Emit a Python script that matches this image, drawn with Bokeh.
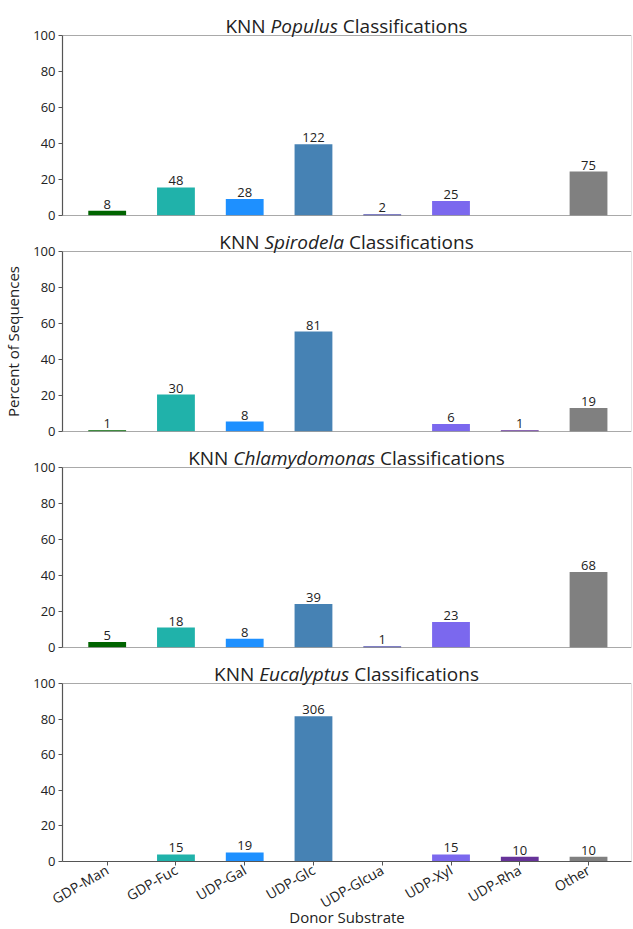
import math
from bokeh.plotting import figure
from bokeh.models import ColumnDataSource, Div, Span, FixedTicker, Range1d
from bokeh.layouts import column
from bokeh.embed import file_html
from bokeh.resources import INLINE
from bokeh.core.properties import value

categories = ["GDP-Man", "GDP-Fuc", "UDP-Gal", "UDP-Glc", "UDP-Glcua", "UDP-Xyl", "UDP-Rha", "Other"]
bar_colors = ["#006400", "#20B2AA", "#1E90FF", "#4682B4", "#00008B", "#7B68EE", "#663399", "#808080"]
species = ["Populus", "Spirodela", "Chlamydomonas", "Eucalyptus"]

populus_counts = [8, 48, 28, 122, 2, 25, None, 75]
populus_pct = [2.6, 15.6, 9.1, 39.6, 0.6, 8.1, 0.0, 24.4]
spirodela_counts = [1, 30, 8, 81, None, 6, 1, 19]
spirodela_pct = [0.7, 20.5, 5.5, 55.5, 0.0, 4.1, 0.7, 13.0]
chlamydomonas_counts = [5, 18, 8, 39, 1, 23, None, 68]
chlamydomonas_pct = [3.1, 11.1, 4.9, 24.1, 0.6, 14.2, 0.0, 42.0]
eucalyptus_counts = [None, 15, 19, 306, None, 15, 10, 10]
eucalyptus_pct = [0.0, 4.0, 5.1, 81.6, 0.0, 4.0, 2.7, 2.7]

y_ticks = [0, 20, 40, 60, 80, 100]
x_label = "Donor Substrate"
y_label = "Percent of Sequences"

panels = [
    (species[0], populus_counts, populus_pct),
    (species[1], spirodela_counts, spirodela_pct),
    (species[2], chlamydomonas_counts, chlamydomonas_pct),
    (species[3], eucalyptus_counts, eucalyptus_pct),
]

FONT = "Open Sans"
AXIS_COLOR = "#555555"
TEXT_COLOR = "#222222"
FRAME_H = 180
X_LO, X_HI = -0.65, 7.625

items = []
for i, (name, counts, pct) in enumerate(panels):
    last = i == len(panels) - 1
    dh = 27 if i == 0 else 20
    title = Div(
        text=(f'<div style="position:relative; top:{dh - 14}px; line-height:20px; white-space:nowrap;">'
              f'KNN <i>{name}</i> Classifications</div>'),
        width=569, height=dh, margin=(0, 0, 0, 62),
        styles={"font-family": FONT, "font-size": "19px", "color": TEXT_COLOR,
                "text-align": "center", "overflow": "visible", "z-index": "5"},
    )
    bottom = 66 if last else 8
    p = figure(width=633, height=8 + FRAME_H + bottom, x_range=Range1d(X_LO, X_HI),
               y_range=Range1d(0, 100), output_backend="svg", toolbar_location=None, tools="")
    p.min_border_top = 8
    p.min_border_left = 62
    p.min_border_right = 2
    p.min_border_bottom = bottom
    p.outline_line_color = None
    p.grid.visible = False
    p.background_fill_color = "white"
    p.border_fill_color = None

    xs = list(range(len(categories)))
    src = ColumnDataSource(dict(x=xs, top=pct, color=bar_colors))
    p.vbar(x="x", top="top", width=0.55, fill_color="color", line_color=None, source=src)

    lx = [x for x, c in zip(xs, counts) if c is not None]
    ly = [v for v, c in zip(pct, counts) if c is not None]
    lt = [str(c) for c in counts if c is not None]
    p.text(x=lx, y=ly, text=lt, text_align="center", text_baseline="bottom", y_offset=-2,
           text_font=value(FONT), text_font_size="13px", text_color=TEXT_COLOR)

    p.add_layout(Span(location=100, dimension="width", line_color=AXIS_COLOR, line_width=1.2))
    p.add_layout(Span(location=X_HI, dimension="height", line_color="#cccccc", line_width=1))

    yax = p.yaxis[0]
    yax.ticker = FixedTicker(ticks=y_ticks)
    yax.axis_line_color = AXIS_COLOR
    yax.axis_line_width = 1.2
    yax.major_tick_line_color = AXIS_COLOR
    yax.major_tick_out = 4
    yax.major_tick_in = 0
    yax.minor_tick_line_color = None
    yax.major_label_text_font = FONT
    yax.major_label_text_font_size = "13px"
    yax.major_label_text_color = TEXT_COLOR
    yax.major_label_standoff = 3
    if i == 1:
        yax.axis_label = y_label
        yax.axis_label_text_font = FONT
        yax.axis_label_text_font_size = "15px"
        yax.axis_label_text_font_style = "normal"
        yax.axis_label_text_color = TEXT_COLOR
        yax.axis_label_standoff = 7

    xax = p.xaxis[0]
    if last:
        xax.ticker = FixedTicker(ticks=xs)
        xax.major_label_overrides = {x: c for x, c in zip(xs, categories)}
        xax.major_label_orientation = math.pi / 6
        xax.axis_line_color = AXIS_COLOR
        xax.axis_line_width = 1.2
        xax.major_tick_line_color = AXIS_COLOR
        xax.major_tick_out = 4
        xax.major_tick_in = 0
        xax.minor_tick_line_color = None
        xax.major_label_text_font = FONT
        xax.major_label_text_font_size = "14px"
        xax.major_label_text_color = TEXT_COLOR
        xax.major_label_standoff = 3
        xax.axis_label = x_label
        xax.axis_label_text_font = FONT
        xax.axis_label_text_font_size = "15px"
        xax.axis_label_text_font_style = "normal"
        xax.axis_label_text_color = TEXT_COLOR
        xax.axis_label_standoff = -16
    else:
        xax.visible = False
        p.add_layout(Span(location=0, dimension="width", line_color=AXIS_COLOR, line_width=1.2))
    items.append(title)
    items.append(p)

layout = column(*items, spacing=0)
open("out.html", "w").write(file_html(layout, INLINE))
